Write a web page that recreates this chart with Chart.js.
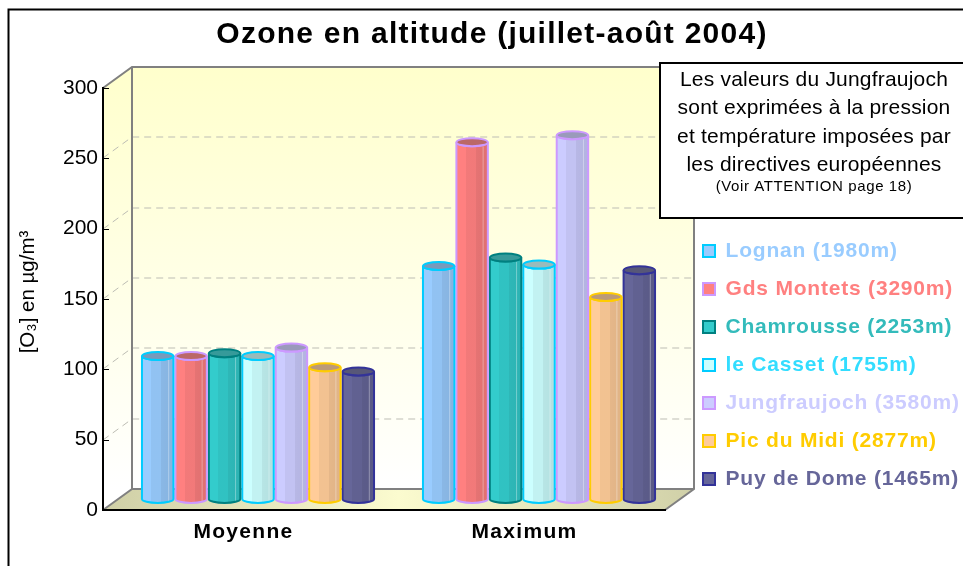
<!DOCTYPE html>
<html>
<head>
<meta charset="utf-8">
<title>Ozone en altitude</title>
<script src="https://cdn.jsdelivr.net/npm/chart.js@4"></script>
<style>
html, body { margin: 0; padding: 0; background: #fff; overflow: hidden; }
#wrap { width: 963px; height: 566px; }
</style>
</head>
<body>
<div id="wrap"><canvas id="ozoneChart" width="963" height="566"></canvas></div>
<script>
const categories = ['Moyenne', 'Maximum'];
const stations = ['Lognan (1980m)', 'Gds Montets (3290m)', 'Chamrousse (2253m)', 'le Casset (1755m)', 'Jungfraujoch (3580m)', 'Pic du Midi (2877m)', 'Puy de Dome (1465m)'];
const lognan = [102, 166];
const gdsMontets = [102, 254];
const chamrousse = [104, 172];
const casset = [102, 167];
const jungfraujoch = [108, 259];
const picDuMidi = [94, 144];
const puyDeDome = [91, 163];
const seriesValues = [lognan, gdsMontets, chamrousse, casset, jungfraujoch, picDuMidi, puyDeDome];
const fillColors = ['#99ccff', '#ff8080', '#33cccc', '#ccffff', '#ccccff', '#ffcc99', '#666699'];
const edgeColors = ['#00ccff', '#cc99ff', '#008080', '#00ccff', '#cc99ff', '#ffcc00', '#333399'];
const legendColors = ['#99ccff', '#ff8080', '#33bbbb', '#33ddff', '#ccccff', '#ffcc00', '#666699'];
const yTicks = [0, 50, 100, 150, 200, 250, 300];
const titleText = 'Ozone en altitude (juillet-août 2004)';
const yTitleText = '[O₃] en µg/m³';
const noteLines = ['Les valeurs du Jungfraujoch', 'sont exprimées à la pression', 'et température imposées par', 'les directives européennes'];
const noteSmall = '(Voir ATTENTION page 18)';

const FONT = '"Liberation Sans", Arial, sans-serif';
const DEPTH_X = 29;
const DEPTH_Y = 21;

// bars are drawn as cylinders standing halfway into the 3D floor
Chart.BarElement.prototype.draw = function (ctx) {
    const x0 = this.x - this.width / 2 + DEPTH_X / 2;
    const x1 = x0 + this.width;
    const cx = (x0 + x1) / 2;
    const rx = this.width / 2 - 1;
    const ry = 4;
    const top = this.y - DEPTH_Y / 2;
    const base = this.base - DEPTH_Y / 2;
    const edge = this.options.borderColor;
    const fill = this.options.backgroundColor;

    const shape = () => {
        ctx.beginPath();
        ctx.moveTo(cx - rx, top);
        ctx.lineTo(cx - rx, base);
        ctx.ellipse(cx, base, rx, ry, 0, Math.PI, 0, true);
        ctx.lineTo(cx + rx, top);
        ctx.ellipse(cx, top, rx, ry, 0, 0, Math.PI, false);
        ctx.closePath();
    };

    ctx.save();
    shape();
    ctx.fillStyle = fill;
    ctx.fill();

    const facets = ctx.createLinearGradient(cx - rx, 0, cx + rx, 0);
    facets.addColorStop(0, 'rgba(0,0,0,0)');
    facets.addColorStop(0.3, 'rgba(0,0,0,0)');
    facets.addColorStop(0.3, 'rgba(0,0,0,0.05)');
    facets.addColorStop(0.62, 'rgba(0,0,0,0.05)');
    facets.addColorStop(0.62, 'rgba(0,0,0,0.1)');
    facets.addColorStop(1, 'rgba(0,0,0,0.12)');
    ctx.fillStyle = facets;
    ctx.fill();

    ctx.strokeStyle = 'rgba(255,255,255,0.35)';
    ctx.lineWidth = 1;
    ctx.beginPath();
    ctx.moveTo(cx + rx * 0.7, top + ry);
    ctx.lineTo(cx + rx * 0.7, base + ry - 1);
    ctx.stroke();

    ctx.strokeStyle = edge;
    ctx.lineWidth = 2;
    shape();
    ctx.stroke();

    ctx.beginPath();
    ctx.ellipse(cx, top, rx, ry, 0, 0, Math.PI * 2);
    ctx.fillStyle = fill;
    ctx.fill();
    ctx.fillStyle = 'rgba(60,60,60,0.35)';
    ctx.fill();
    ctx.stroke();
    ctx.restore();
};

function withSpacing(target, method, px) {
    if (target['_spaced' + method]) return;
    target['_spaced' + method] = true;
    const original = target[method];
    target[method] = function (...args) {
        const ctx = this.ctx;
        ctx.letterSpacing = px;
        original.apply(this, args);
        ctx.letterSpacing = '0px';
    };
}

const scenePlugin = {
    id: 'scene',
    afterLayout(chart) {
        Object.assign(chart.titleBlock, { left: 21, right: chart.width });
        // the legend stays out of the layout, it sits under the note box
        Object.assign(chart.legend, { left: 686, top: 223.5, right: chart.width, bottom: chart.height });
        withSpacing(chart.titleBlock, 'draw', '1.25px');
        withSpacing(chart.legend, 'draw', '0.8px');
        withSpacing(chart.scales.x, 'drawLabels', '1.3px');
    },
    beforeDraw(chart) {
        const { ctx, chartArea: a, scales: { y } } = chart;
        const bx = a.left + DEPTH_X;
        const bxr = a.right + DEPTH_X;
        const by = a.top - DEPTH_Y;
        const bb = a.bottom - DEPTH_Y;

        // outer frame, open on the right and at the bottom
        ctx.strokeStyle = '#000';
        ctx.lineWidth = 2;
        ctx.beginPath();
        ctx.moveTo(8.5, chart.height);
        ctx.lineTo(8.5, 9.5);
        ctx.lineTo(chart.width, 9.5);
        ctx.stroke();

        const wall = ctx.createLinearGradient(0, by, 0, bb);
        wall.addColorStop(0, '#ffffcc');
        wall.addColorStop(1, '#ffffff');
        ctx.fillStyle = wall;
        ctx.fillRect(bx, by, bxr - bx, bb - by);

        ctx.beginPath();
        ctx.moveTo(a.left, a.top);
        ctx.lineTo(bx, by);
        ctx.lineTo(bx, bb);
        ctx.lineTo(a.left, a.bottom);
        ctx.closePath();
        ctx.fill();

        const floor = ctx.createLinearGradient(a.left, 0, bxr, 0);
        floor.addColorStop(0, '#cfcfa6');
        floor.addColorStop(0.5, '#fbfbcf');
        floor.addColorStop(1, '#d0d0a8');
        ctx.fillStyle = floor;
        ctx.beginPath();
        ctx.moveTo(a.left, a.bottom);
        ctx.lineTo(bx, bb);
        ctx.lineTo(bxr, bb);
        ctx.lineTo(a.right, a.bottom);
        ctx.closePath();
        ctx.fill();

        // dashed grid on the side wall and the back wall
        ctx.save();
        ctx.strokeStyle = '#bdbdb4';
        ctx.lineWidth = 1;
        ctx.setLineDash([7, 5]);
        yTicks.slice(1, -1).forEach(v => {
            const py = Math.round(y.getPixelForValue(v));
            ctx.beginPath();
            ctx.moveTo(a.left, py);
            ctx.lineTo(bx, py - DEPTH_Y);
            ctx.lineTo(bxr, py - DEPTH_Y);
            ctx.stroke();
        });
        ctx.restore();

        ctx.strokeStyle = '#808080';
        ctx.lineWidth = 2;
        ctx.beginPath();
        ctx.moveTo(a.left, a.top);
        ctx.lineTo(bx, by);
        ctx.lineTo(bxr, by);
        ctx.lineTo(bxr, bb);
        ctx.lineTo(a.right, a.bottom);
        ctx.moveTo(bx, by);
        ctx.lineTo(bx, bb);
        ctx.lineTo(a.left, a.bottom);
        ctx.moveTo(bx, bb);
        ctx.lineTo(bxr, bb);
        ctx.stroke();
    },
    afterDraw(chart) {
        const { ctx, chartArea: a, scales: { y } } = chart;

        // tick marks point into the side wall
        ctx.strokeStyle = '#000';
        ctx.lineWidth = 1;
        yTicks.forEach(v => {
            const py = Math.round(y.getPixelForValue(v)) + 0.5;
            ctx.beginPath();
            ctx.moveTo(a.left, py);
            ctx.lineTo(a.left + 6, py);
            ctx.stroke();
        });

        ctx.save();
        ctx.translate(34, 292);
        ctx.rotate(-Math.PI / 2);
        ctx.font = '20.5px ' + FONT;
        ctx.fillStyle = '#000';
        ctx.textAlign = 'center';
        ctx.textBaseline = 'alphabetic';
        ctx.fillText(yTitleText, 0, 0);
        ctx.restore();

        // note box over the top right corner
        ctx.fillStyle = '#fff';
        ctx.fillRect(660, 63, 310, 155);
        ctx.strokeStyle = '#000';
        ctx.lineWidth = 2;
        ctx.strokeRect(660, 63, 310, 155);
        ctx.fillStyle = '#000';
        ctx.textAlign = 'center';
        ctx.textBaseline = 'middle';
        ctx.font = '21px ' + FONT;
        ctx.letterSpacing = '0.2px';
        noteLines.forEach((line, i) => ctx.fillText(line, 814, 80 + i * 28.5));
        ctx.font = '15px ' + FONT;
        ctx.letterSpacing = '0.6px';
        ctx.fillText(noteSmall, 814, 187);
        ctx.letterSpacing = '0px';
    }
};

new Chart(document.getElementById('ozoneChart').getContext('2d'), {
    type: 'bar',
    data: {
        labels: categories,
        datasets: stations.map((name, i) => ({
            label: name,
            data: seriesValues[i],
            backgroundColor: fillColors[i],
            borderColor: edgeColors[i],
            borderWidth: 2,
            categoryPercentage: 0.833,
            barPercentage: 1
        }))
    },
    options: {
        responsive: false,
        animation: false,
        layout: { padding: { left: 0, top: 0, right: 298, bottom: 0 } },
        plugins: {
            tooltip: { enabled: false },
            title: {
                display: true,
                text: titleText,
                color: '#000',
                font: { family: FONT, size: 30, weight: 'bold' },
                padding: { top: 17, bottom: 35 }
            },
            legend: {
                position: 'chartArea',
                align: 'start',
                labels: {
                    boxWidth: 12,
                    boxHeight: 12,
                    padding: 17,
                    font: { family: FONT, size: 21, weight: 'bold' },
                    generateLabels(chart) {
                        return Chart.defaults.plugins.legend.labels.generateLabels(chart)
                            .map((item, i) => ({ ...item, fontColor: legendColors[i] }));
                    }
                }
            }
        },
        scales: {
            x: {
                afterFit(scale) { scale.height = 56; },
                grid: { display: false },
                border: { color: '#000', width: 2 },
                ticks: { color: '#000', padding: 2, font: { family: FONT, size: 21, weight: 'bold' } }
            },
            y: {
                min: 0,
                max: 300,
                afterFit(scale) { scale.width = 103; },
                grid: { drawOnChartArea: false, drawTicks: false },
                border: { color: '#000', width: 2 },
                afterBuildTicks(scale) { scale.ticks = yTicks.map(value => ({ value })); },
                ticks: { color: '#000', padding: 5, font: { family: FONT, size: 21 } }
            }
        }
    },
    plugins: [scenePlugin]
});
</script>
</body>
</html>
